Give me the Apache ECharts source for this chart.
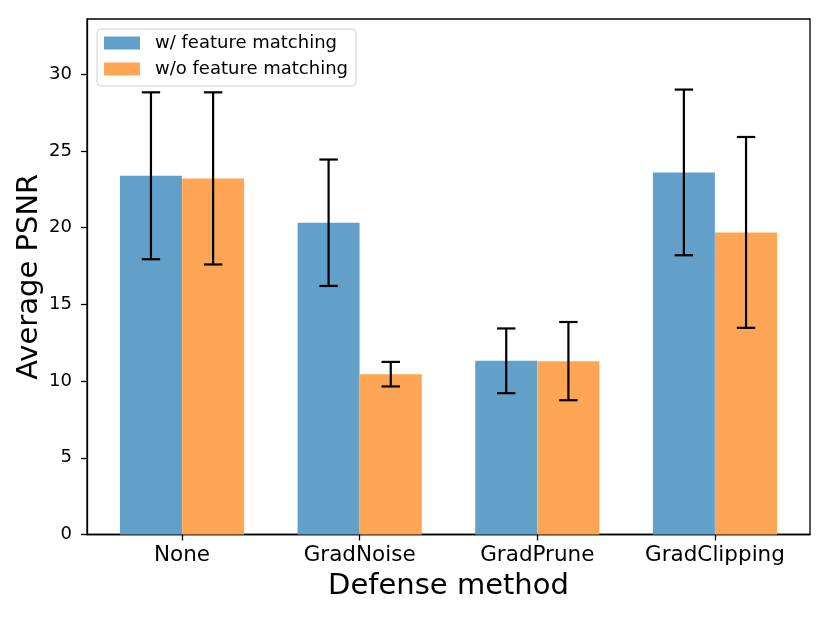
<!DOCTYPE html>
<html>
<head>
<meta charset="utf-8">
<script src="https://cdn.jsdelivr.net/npm/echarts@6/dist/echarts.min.js"></script>
<style>html,body{margin:0;padding:0;background:#fff}#chart{width:830px;height:623px}</style>
</head>
<body>
<div id="chart"></div>
<script>
const categories = ['None', 'GradNoise', 'GradPrune', 'GradClipping'];
const seriesNames = ['w/ feature matching', 'w/o feature matching'];
const withFM = [23.38, 20.32, 11.32, 23.60];
const withFMErr = [5.44, 4.12, 2.11, 5.40];
const withoutFM = [23.21, 10.45, 11.30, 19.69];
const withoutFMErr = [5.61, 0.80, 2.55, 6.22];
const yTicks = [0, 5, 10, 15, 20, 25, 30];

const barW = 0.35;
const offsets = [-barW / 2, barW / 2];
const FONT = 'DejaVu Sans';

function barData(vals, k) { return vals.map((v, i) => [i + offsets[k], v]); }
function errData(vals, errs, k) { return vals.map((v, i) => [i + offsets[k], v - errs[i], v + errs[i]]); }

function renderErr(params, api) {
  const x = api.value(0), lo = api.value(1), hi = api.value(2);
  const pLo = api.coord([x, lo]), pHi = api.coord([x, hi]);
  const cap = 9.2;
  const style = { stroke: '#000', lineWidth: 2.2 };
  return {
    type: 'group',
    children: [
      { type: 'line', shape: { x1: pLo[0], y1: pLo[1], x2: pHi[0], y2: pHi[1] }, style },
      { type: 'line', shape: { x1: pLo[0] - cap, y1: pLo[1], x2: pLo[0] + cap, y2: pLo[1] }, style },
      { type: 'line', shape: { x1: pHi[0] - cap, y1: pHi[1], x2: pHi[0] + cap, y2: pHi[1] }, style }
    ]
  };
}

const chart = echarts.init(document.getElementById('chart'), null, { renderer: 'canvas' });
chart.setOption({
  animation: false,
  backgroundColor: '#fff',
  textStyle: { fontFamily: FONT },
  grid: { left: 87, right: 20, top: 19, bottom: 88.5, show: true, borderColor: '#000', borderWidth: 1.3, backgroundColor: 'transparent' },
  legend: {
    data: seriesNames,
    orient: 'vertical',
    left: 97, top: 29,
    padding: [5, 8, 8, 7],
    itemWidth: 36, itemHeight: 13, itemGap: 8,
    icon: 'rect',
    backgroundColor: '#fff',
    borderColor: '#d0d0d0', borderWidth: 1, borderRadius: 4,
    textStyle: { fontSize: 18, fontFamily: FONT, color: '#000', padding: [0, 0, 0, 10], lineHeight: 18 }
  },
  xAxis: {
    type: 'value',
    min: -0.535, max: 3.535,
    name: 'Defense method',
    nameLocation: 'middle',
    nameGap: 37,
    nameMoveOverlap: false,
    nameTextStyle: { fontSize: 29, fontFamily: FONT, color: '#000', verticalAlign: 'top' },
    splitLine: { show: false },
    axisLine: { show: true, onZero: false, lineStyle: { color: '#000', width: 1.3 } },
    axisTick: { show: true, length: 6, customValues: [0, 1, 2, 3], lineStyle: { color: '#000', width: 1.3 } },
    axisLabel: { customValues: [0, 1, 2, 3], formatter: v => categories[Math.round(v)], fontSize: 21.5, fontFamily: FONT, color: '#000', margin: 10 }
  },
  yAxis: {
    type: 'value',
    min: 0, max: 33.6, interval: 5,
    name: 'Average PSNR',
    nameLocation: 'middle',
    nameGap: 43,
    nameMoveOverlap: false,
    nameTextStyle: { fontSize: 29, fontFamily: FONT, color: '#000' },
    splitLine: { show: false },
    axisLine: { show: true, onZero: false, lineStyle: { color: '#000', width: 1.3 } },
    axisTick: { show: true, length: 6, customValues: yTicks, lineStyle: { color: '#000', width: 1.3 } },
    axisLabel: { customValues: yTicks, fontSize: 18, fontFamily: FONT, color: '#000', margin: 15 }
  },
  series: [
    { name: seriesNames[0], type: 'bar', barWidth: 62, barGap: '-100%', data: barData(withFM, 0), itemStyle: { color: '#62a0ca' }, z: 2 },
    { name: seriesNames[1], type: 'bar', barWidth: 62, barGap: '-100%', data: barData(withoutFM, 1), itemStyle: { color: '#ffa556' }, z: 2 },
    { name: 'err1', type: 'custom', renderItem: renderErr, data: errData(withFM, withFMErr, 0), z: 5, encode: { x: 0, y: [1, 2] } },
    { name: 'err2', type: 'custom', renderItem: renderErr, data: errData(withoutFM, withoutFMErr, 1), z: 5, encode: { x: 0, y: [1, 2] } }
  ]
});
</script>
</body>
</html>
